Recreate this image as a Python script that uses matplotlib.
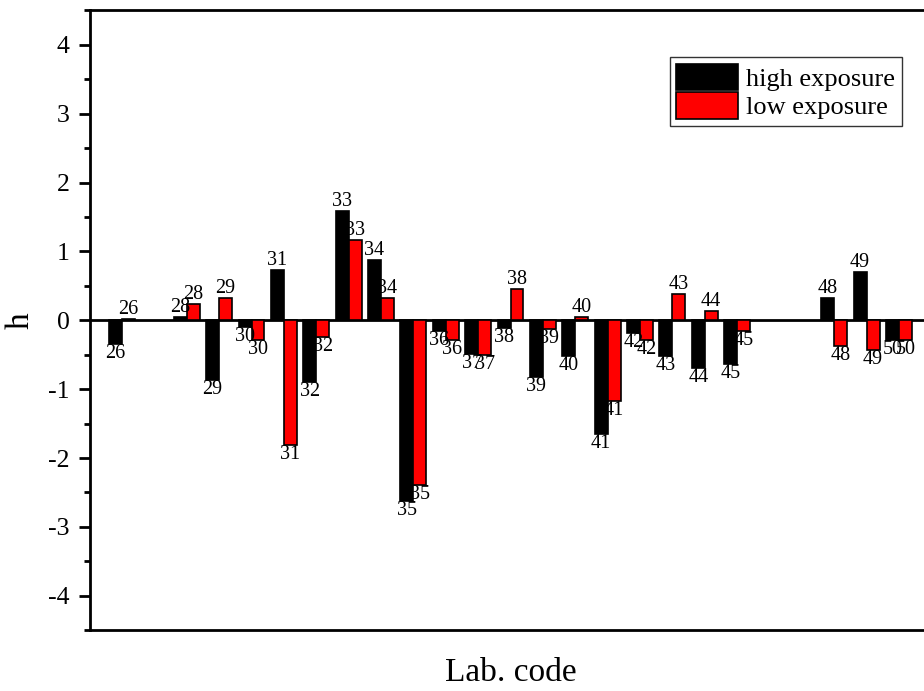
import numpy as np
import matplotlib
matplotlib.use("Agg")
import matplotlib.pyplot as plt
from matplotlib.ticker import MultipleLocator

# lab codes and z-like scores (h) for the two exposure levels
codes = [26, 28, 29, 30, 31, 32, 33, 34, 35, 36, 37, 38, 39, 40, 41, 42, 43, 44, 45, 48, 49, 50]
high_exposure = [-0.34, 0.05, -0.86, -0.10, 0.73, -0.89, 1.58, 0.88, -2.63, -0.15, -0.49,
                 -0.11, -0.82, -0.52, -1.65, -0.18, -0.52, -0.69, -0.63, 0.33, 0.70, -0.28]
low_exposure = [0.02, 0.23, 0.33, -0.29, -1.81, -0.25, 1.16, 0.33, -2.39, -0.28, -0.50,
                0.46, -0.12, 0.05, -1.17, -0.28, 0.38, 0.14, -0.16, -0.37, -0.43, -0.28]

plt.rcParams["font.family"] = ["Liberation Serif", "DejaVu Serif"]
plt.rcParams["axes.unicode_minus"] = False

fig = plt.figure(figsize=(9.24, 6.91), dpi=100)
ax = fig.add_axes([0.097, 0.088, 0.911, 0.897])

x = np.array(codes, dtype=float)
w = 0.4
b1 = ax.bar(x - w / 2, high_exposure, w, color="black", edgecolor="black",
            linewidth=1.2, label="high exposure", zorder=3)
b2 = ax.bar(x + w / 2, low_exposure, w, color="red", edgecolor="black",
            linewidth=1.2, label="low exposure", zorder=3)

# code labels above positive bars, below negative ones
for bars, vals in ((b1, high_exposure), (b2, low_exposure)):
    for rect, code, v in zip(bars, codes, vals):
        cx = rect.get_x() + rect.get_width() / 2
        if v >= 0:
            ax.annotate(str(code), (cx, v), xytext=(0, 0), textcoords="offset points",
                        ha="center", va="bottom", fontsize=14.5, zorder=4)
        else:
            ax.annotate(str(code), (cx, v), xytext=(0, 0), textcoords="offset points",
                        ha="center", va="top", fontsize=14.5, zorder=4)

ax.axhline(0, color="black", linewidth=2, zorder=2)

ax.set_xlim(25, 51)
ax.set_ylim(-4.5, 4.5)
ax.yaxis.set_major_locator(MultipleLocator(1))
ax.yaxis.set_minor_locator(MultipleLocator(0.5))
ax.set_xticks([])
ax.tick_params(axis="y", which="major", direction="out", length=8, width=2, labelsize=18.5, pad=6.5)
ax.tick_params(axis="y", which="minor", direction="out", length=4.5, width=2)

for side in ("left", "bottom", "top"):
    ax.spines[side].set_linewidth(2)
ax.spines["right"].set_visible(False)

ax.set_ylabel("h", fontsize=24, labelpad=9)
ax.set_xlabel("Lab. code", fontsize=24, labelpad=20)

leg = ax.legend(loc="upper right", bbox_to_anchor=(0.965, 0.924), fontsize=19,
                frameon=True, fancybox=False, edgecolor="black", borderpad=0.25,
                handlelength=2.35, handleheight=1.15, handletextpad=0.3,
                labelspacing=0.05, borderaxespad=0)
leg.get_frame().set_linewidth(1.0)

fig.savefig("out.png", dpi=100)
